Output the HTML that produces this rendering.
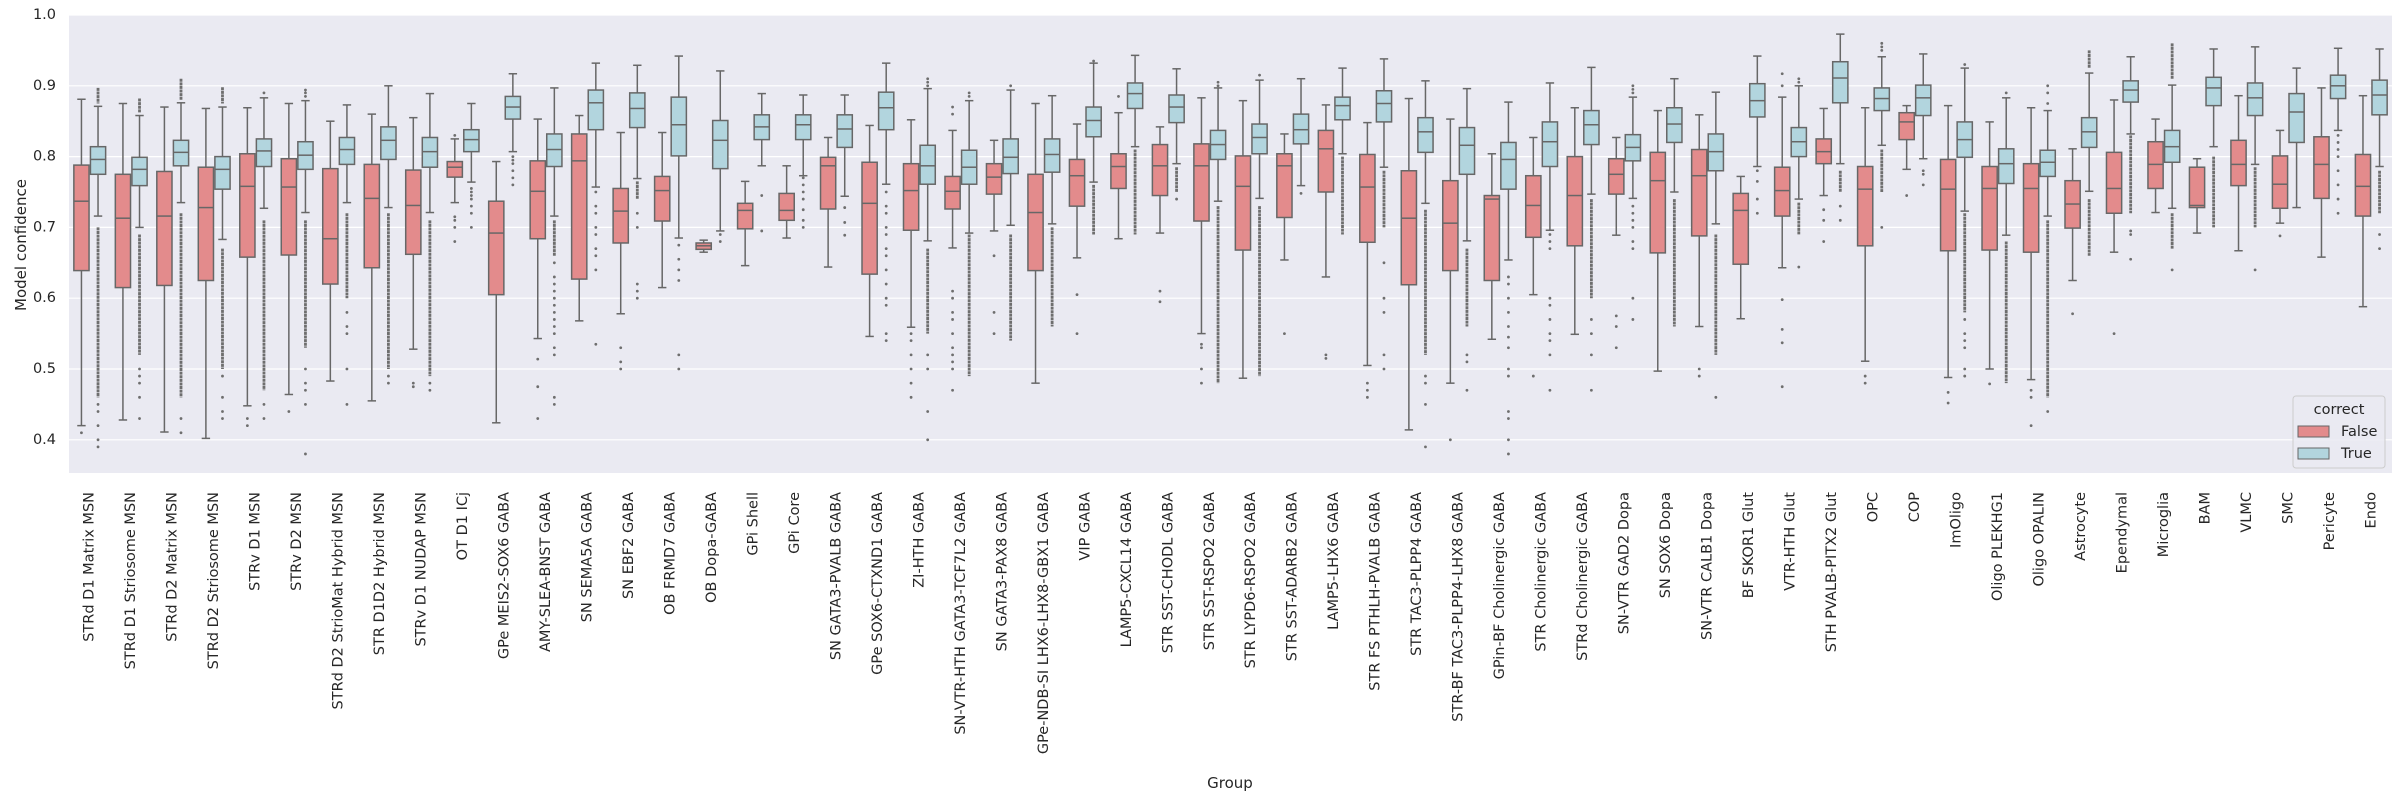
<!DOCTYPE html>
<html><head><meta charset="utf-8"><style>
html,body{margin:0;padding:0;background:#fff;}
svg{display:block;font-family:"DejaVu Sans","Liberation Sans",sans-serif;}
</style></head><body>
<svg id="chart" width="2403" height="796" viewBox="0 0 2403 796" xmlns="http://www.w3.org/2000/svg">
<rect x="69" y="15" width="2323" height="458" fill="#eaeaf2"/>
<g id="grid"></g>
<g id="yticks"></g>
<g id="boxes"></g>
<g id="xticks"></g>
<text transform="translate(21,245) rotate(-90)" text-anchor="middle" dominant-baseline="central" font-size="15" fill="#262626">Model confidence</text>
<text x="1230" y="788" text-anchor="middle" font-size="15" fill="#262626">Group</text>
<g>
<rect x="2293" y="396" width="92" height="72" rx="3" fill="#eaeaf2" fill-opacity="0.85" stroke="#cccccc" stroke-width="1"/>
<text x="2339" y="414" text-anchor="middle" font-size="14.5" fill="#262626">correct</text>
<g>
<rect x="2298" y="426" width="31" height="11" fill="#e38b8c" stroke="#666" stroke-width="1"/>
<text x="2341" y="436" font-size="14.5" fill="#262626">False</text>
</g>
<g>
<rect x="2298" y="448" width="31" height="11" fill="#b2d5de" stroke="#666" stroke-width="1"/>
<text x="2341" y="458" font-size="14.5" fill="#262626">True</text>
</g>
</g>
</svg>
<script>
const categories = ["STRd D1 Matrix MSN","STRd D1 Striosome MSN","STRd D2 Matrix MSN","STRd D2 Striosome MSN","STRv D1 MSN","STRv D2 MSN","STRd D2 StrioMat Hybrid MSN","STR D1D2 Hybrid MSN","STRv D1 NUDAP MSN","OT D1 ICj","GPe MEIS2-SOX6 GABA","AMY-SLEA-BNST GABA","SN SEMA5A GABA","SN EBF2 GABA","OB FRMD7 GABA","OB Dopa-GABA","GPi Shell","GPi Core","SN GATA3-PVALB GABA","GPe SOX6-CTXND1 GABA","ZI-HTH GABA","SN-VTR-HTH GATA3-TCF7L2 GABA","SN GATA3-PAX8 GABA","GPe-NDB-SI LHX6-LHX8-GBX1 GABA","VIP GABA","LAMP5-CXCL14 GABA","STR SST-CHODL GABA","STR SST-RSPO2 GABA","STR LYPD6-RSPO2 GABA","STR SST-ADARB2 GABA","LAMP5-LHX6 GABA","STR FS PTHLH-PVALB GABA","STR TAC3-PLPP4 GABA","STR-BF TAC3-PLPP4-LHX8 GABA","GPin-BF Cholinergic GABA","STR Cholinergic GABA","STRd Cholinergic GABA","SN-VTR GAD2 Dopa","SN SOX6 Dopa","SN-VTR CALB1 Dopa","BF SKOR1 Glut","VTR-HTH Glut","STH PVALB-PITX2 Glut","OPC","COP","ImOligo","Oligo PLEKHG1","Oligo OPALIN","Astrocyte","Ependymal","Microglia","BAM","VLMC","SMC","Pericyte","Endo"];
// [whisker low, q1, median, q3, whisker high]
const statsFalse = [
[0.420,0.639,0.737,0.788,0.881],[0.428,0.615,0.713,0.775,0.875],[0.411,0.618,0.716,0.779,0.870],[0.402,0.625,0.728,0.785,0.868],
[0.448,0.658,0.758,0.804,0.869],[0.464,0.661,0.757,0.797,0.875],[0.483,0.620,0.684,0.783,0.850],[0.455,0.643,0.741,0.789,0.860],
[0.528,0.662,0.731,0.781,0.855],[0.735,0.771,0.785,0.793,0.825],[0.424,0.605,0.692,0.737,0.793],[0.543,0.684,0.751,0.794,0.853],
[0.568,0.627,0.794,0.832,0.858],[0.578,0.678,0.723,0.755,0.834],[0.615,0.709,0.752,0.772,0.834],[0.665,0.669,0.674,0.678,0.682],
[0.646,0.698,0.724,0.734,0.765],[0.685,0.710,0.724,0.748,0.787],[0.644,0.726,0.787,0.799,0.827],[0.546,0.634,0.734,0.792,0.844],
[0.559,0.696,0.752,0.790,0.852],[0.671,0.726,0.751,0.772,0.837],[0.695,0.747,0.771,0.790,0.823],[0.480,0.639,0.721,0.775,0.875],
[0.657,0.730,0.773,0.796,0.846],[0.684,0.755,0.786,0.804,0.862],[0.692,0.745,0.787,0.817,0.842],[0.550,0.709,0.787,0.818,0.883],
[0.487,0.668,0.758,0.801,0.879],[0.654,0.714,0.787,0.804,0.832],[0.630,0.750,0.811,0.837,0.873],[0.505,0.679,0.757,0.803,0.848],
[0.414,0.619,0.713,0.780,0.882],[0.480,0.639,0.706,0.766,0.853],[0.542,0.625,0.740,0.745,0.804],[0.605,0.686,0.731,0.773,0.827],
[0.549,0.674,0.745,0.800,0.869],[0.689,0.747,0.775,0.797,0.827],[0.497,0.664,0.766,0.806,0.865],[0.560,0.688,0.773,0.810,0.859],
[0.571,0.648,0.724,0.748,0.772],[0.643,0.716,0.752,0.785,0.884],[0.745,0.790,0.807,0.825,0.868],[0.511,0.674,0.754,0.786,0.869],
[0.782,0.824,0.849,0.862,0.872],[0.488,0.667,0.754,0.796,0.872],[0.500,0.668,0.755,0.786,0.849],[0.485,0.665,0.755,0.790,0.869],
[0.625,0.699,0.733,0.766,0.811],[0.665,0.720,0.755,0.806,0.880],[0.721,0.755,0.789,0.821,0.853],[0.692,0.728,0.731,0.785,0.797],
[0.667,0.759,0.789,0.823,0.886],[0.706,0.727,0.761,0.801,0.837],[0.658,0.741,0.789,0.828,0.897],[0.588,0.716,0.758,0.803,0.886]];
const statsTrue = [
[0.716,0.775,0.796,0.814,0.871],[0.700,0.759,0.782,0.799,0.858],[0.735,0.787,0.806,0.823,0.876],[0.683,0.754,0.782,0.800,0.870],
[0.727,0.786,0.808,0.825,0.883],[0.721,0.782,0.802,0.821,0.879],[0.735,0.789,0.810,0.827,0.873],[0.728,0.796,0.823,0.842,0.900],
[0.721,0.785,0.807,0.827,0.889],[0.764,0.807,0.824,0.838,0.875],[0.807,0.853,0.870,0.885,0.917],[0.716,0.786,0.810,0.832,0.897],
[0.757,0.838,0.876,0.894,0.932],[0.769,0.841,0.868,0.890,0.929],[0.685,0.801,0.845,0.884,0.942],[0.695,0.783,0.823,0.851,0.921],
[0.787,0.824,0.842,0.859,0.889],[0.773,0.824,0.845,0.859,0.887],[0.744,0.813,0.839,0.859,0.887],[0.761,0.838,0.869,0.891,0.932],
[0.681,0.761,0.787,0.816,0.896],[0.692,0.761,0.785,0.809,0.879],[0.703,0.776,0.799,0.825,0.894],[0.705,0.778,0.803,0.825,0.886],
[0.764,0.828,0.851,0.870,0.932],[0.814,0.868,0.889,0.904,0.943],[0.790,0.848,0.870,0.887,0.924],[0.737,0.796,0.817,0.837,0.897],
[0.741,0.804,0.827,0.846,0.908],[0.759,0.818,0.838,0.860,0.910],[0.804,0.852,0.872,0.884,0.925],[0.785,0.849,0.875,0.893,0.938],
[0.734,0.806,0.835,0.855,0.907],[0.681,0.775,0.816,0.841,0.896],[0.654,0.754,0.796,0.820,0.877],[0.696,0.786,0.821,0.849,0.904],
[0.747,0.817,0.845,0.865,0.926],[0.741,0.794,0.813,0.831,0.884],[0.750,0.820,0.846,0.869,0.910],[0.705,0.780,0.807,0.832,0.891],
[0.786,0.856,0.879,0.903,0.942],[0.740,0.800,0.821,0.841,0.900],[0.790,0.876,0.911,0.934,0.973],[0.816,0.865,0.882,0.897,0.941],
[0.797,0.858,0.883,0.901,0.945],[0.723,0.799,0.824,0.849,0.925],[0.689,0.762,0.790,0.811,0.883],[0.716,0.772,0.792,0.809,0.865],
[0.751,0.813,0.835,0.855,0.918],[0.832,0.877,0.894,0.907,0.941],[0.727,0.792,0.814,0.837,0.901],[0.814,0.872,0.897,0.912,0.952],
[0.789,0.858,0.883,0.904,0.955],[0.728,0.820,0.863,0.889,0.925],[0.837,0.882,0.900,0.915,0.953],[0.786,0.859,0.887,0.908,0.952]];
// outliers: number = single point, [a,b] = dense run of points between a and b
const outliersFalse = [
[0.41],[],[],[],[0.43,0.42],[0.44],[],[],[0.48,0.475],[0.83,0.715,0.71,0.70,0.68],[],[0.514,0.475,0.43],
[],[0.53,0.51,0.50],[],[],[],[],[],[],[0.55,0.54,0.52,0.50,0.48,0.46],[0.86,0.87,0.61,0.60,0.58,0.57,0.55,0.53,0.52,0.51,0.50,0.47],[0.66,0.58,0.55],[],
[0.605,0.55],[0.885],[0.61,0.595],[0.535,0.53,0.50,0.48],[],[0.55],[0.52,0.515],[0.48,0.47,0.46],[],[0.40],[],[0.49],
[],[0.575,0.56,0.53],[],[0.50,0.49],[],[0.90,0.917,0.598,0.556,0.537,0.475],[0.725,0.71,0.68],[0.49,0.48],
[0.745],[0.467,0.452],[0.479],[0.47,0.46,0.42],[0.578],[0.55],[],[],[],[0.688],[],[]];
const outliersTrue = [
[[0.875,0.897],[0.46,0.70],0.45,0.44,0.42,0.40,0.39],[[0.862,0.882],[0.52,0.69],0.50,0.49,0.48,0.46,0.43],[[0.88,0.91],[0.46,0.72],0.43,0.41],[[0.875,0.898],[0.50,0.67],0.49,0.46,0.44,0.43],
[0.89,[0.47,0.71],0.45,0.43],[0.885,0.89,0.894,[0.53,0.71],0.50,0.48,0.47,0.45,0.38],[[0.60,0.72],0.58,0.56,0.55,0.50,0.45],[[0.50,0.72],0.49,0.48],
[[0.49,0.71],0.48,0.47],[0.755,0.75,0.745,0.74,0.73,0.72,0.70],[0.80,0.795,0.79,0.78,0.77,0.76],[[0.66,0.71],0.65,0.63,0.62,0.61,0.60,0.59,0.58,0.57,0.56,0.55,0.53,0.52,0.46,0.45],
[0.75,0.73,0.72,0.70,0.69,0.67,0.66,0.64,0.535],[[0.74,0.765],0.72,0.70,0.62,0.61,0.60],[0.675,0.655,0.64,0.625,0.52,0.50],[0.69,0.68],
[0.745,0.695],[0.77,0.76,0.75,0.74,0.725,0.71,0.70],[0.728,0.707,0.689],[0.75,0.73,0.72,0.70,0.69,0.67,0.66,0.64,0.62,0.60,0.59,0.55,0.54],
[0.90,0.905,0.91,[0.55,0.67],0.52,0.50,0.44,0.40],[0.885,0.89,[0.49,0.69]],[0.90,[0.54,0.69]],[[0.56,0.70]],
[0.935,[0.69,0.76]],[[0.69,0.81]],[[0.75,0.785],0.74],[0.905,0.90,[0.48,0.73]],
[0.915,[0.49,0.73]],[0.748],[[0.69,0.80]],[[0.70,0.78],0.65,0.60,0.58,0.52,0.50],
[[0.52,0.725],0.49,0.48,0.45,0.39],[[0.56,0.67],0.52,0.51,0.47],[0.63,0.62,0.60,0.58,0.56,0.545,0.53,0.50,0.49,0.44,0.43,0.40,0.38],[0.69,0.68,0.67,0.60,0.59,0.57,0.55,0.54,0.52,0.47],
[[0.60,0.74],0.57,0.55,0.52,0.47],[0.89,0.895,0.90,0.73,0.72,0.71,0.70,0.68,0.67,0.60,0.57],[[0.56,0.74]],[[0.52,0.69],0.46],
[0.78,0.765,0.74,0.72],[0.905,0.91,[0.69,0.735],0.644],[[0.75,0.78],0.73,0.71],[0.95,0.955,0.96,[0.75,0.81],0.70],
[0.78,0.775,0.76],[0.93,[0.58,0.72],0.57,0.55,0.54,0.53,0.50,0.49],[0.89,[0.48,0.68]],[0.875,0.89,0.90,[0.46,0.71],0.44],
[[0.925,0.95],[0.66,0.74]],[[0.72,0.83],0.695,0.69,0.655],[[0.91,0.96],[0.67,0.72],0.64],[[0.70,0.80]],
[[0.70,0.785],0.64],[],[0.83,0.82,0.81,0.80,0.78,0.76,0.74,0.72],[[0.72,0.78],0.69,0.67]];
const yTicks = [0.4,0.5,0.6,0.7,0.8,0.9,1.0];

const NS = "http://www.w3.org/2000/svg";
const PL = 69, PR = 2392, PT = 15, PB = 473;
const step = (PR - PL) / categories.length;
function yScale(v){ return PT + (1 - v) * 708; }
function xCenter(i){ return PL + (i + 0.5) * step; }
function mk(tag, attrs, parent){ const e = document.createElementNS(NS, tag); for (const k in attrs) e.setAttribute(k, attrs[k]); parent.appendChild(e); return e; }

const grid = document.getElementById('grid');
const yt = document.getElementById('yticks');
yTicks.forEach(t => {
  const l = mk('line', {x1:PL, x2:PR, y1:yScale(t), y2:yScale(t), stroke:'#ffffff', 'stroke-width':1.2}, grid);
  
  
  const tx = mk('text', {x:56, y:yScale(t), 'text-anchor':'end', 'dominant-baseline':'central', 'font-size':14.5, fill:'#262626'}, yt);
  tx.textContent = t.toFixed(1);
  
  
});

const boxesG = document.getElementById('boxes');
const xt = document.getElementById('xticks');
const BW = step * 0.4;
const LC = '#676767';
function drawBox(g, x0, s, outs, fill){
  const cx = x0 + BW/2;
  mk('line', {x1:cx, x2:cx, y1:yScale(s[4]), y2:yScale(s[3]), stroke:LC, 'stroke-width':1.5}, g);
  mk('line', {x1:cx, x2:cx, y1:yScale(s[1]), y2:yScale(s[0]), stroke:LC, 'stroke-width':1.5}, g);
  mk('line', {x1:cx-4.2, x2:cx+4.2, y1:yScale(s[4]), y2:yScale(s[4]), stroke:LC, 'stroke-width':1.5}, g);
  mk('line', {x1:cx-4.2, x2:cx+4.2, y1:yScale(s[0]), y2:yScale(s[0]), stroke:LC, 'stroke-width':1.5}, g);
  const r = mk('rect', {x:x0+0.7, y:yScale(s[3]), width:BW-1.4, height:Math.max(1, yScale(s[1])-yScale(s[3])), fill:fill, stroke:LC, 'stroke-width':1.5}, g);
  
  
  mk('line', {x1:x0+0.7, x2:x0+BW-0.7, y1:yScale(s[2]), y2:yScale(s[2]), stroke:LC, 'stroke-width':1.5}, g);
  outs.forEach(o => {
    if (Array.isArray(o)) {
      const ln = mk('line', {x1:cx, x2:cx, y1:yScale(Math.max(o[0],o[1])), y2:yScale(Math.min(o[0],o[1])), stroke:'#6e6e6e', 'stroke-width':2.8, 'stroke-dasharray':'3 0.6'}, g);
      
      
    } else {
      const c = mk('circle', {cx:cx, cy:yScale(o), r:1.4, fill:'#6e6e6e'}, g);
      
      
    }
  });
}
categories.forEach((name, i) => {
  const cx = xCenter(i);
  const gF = mk('g', {}, boxesG);
  
  
  drawBox(gF, cx - BW, statsFalse[i], outliersFalse[i], '#e38b8c');
  const gT = mk('g', {}, boxesG);
  
  
  drawBox(gT, cx, statsTrue[i], outliersTrue[i], '#b2d5de');
  const t = mk('text', {transform:'translate(' + cx + ',492) rotate(-90)', 'text-anchor':'end', 'dominant-baseline':'central', 'font-size':14.5, fill:'#262626'}, xt);
  t.textContent = name;
  
  
});
</script>
</body></html>
